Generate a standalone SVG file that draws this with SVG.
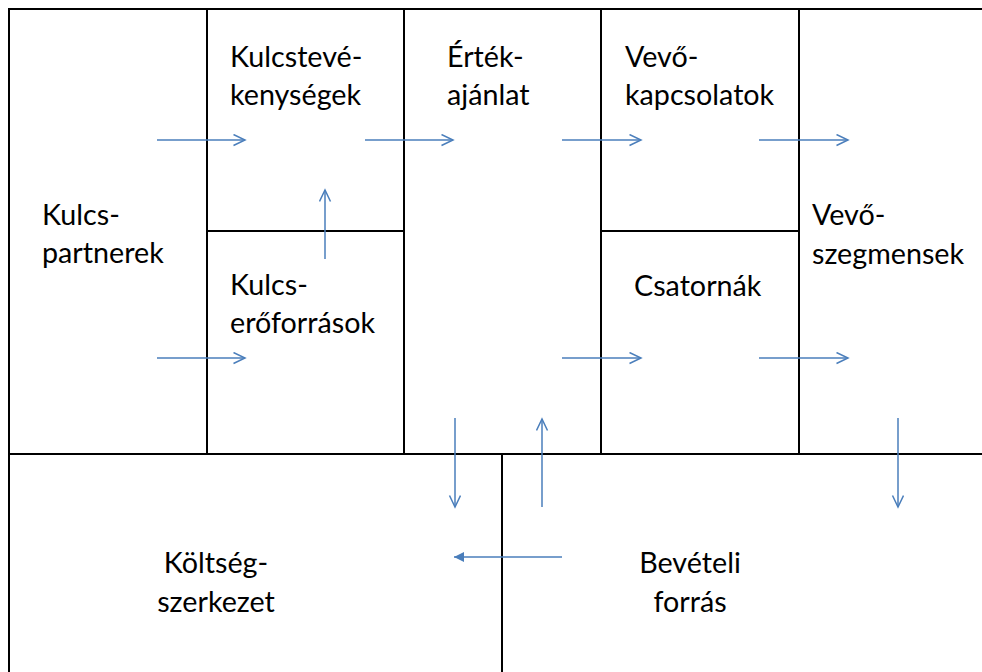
<svg xmlns="http://www.w3.org/2000/svg" width="982" height="672" viewBox="0 0 982 672">
  <style>
    .cell { fill: #ffffff; stroke: #000000; stroke-width: 2; }
    .lbl { font-family: Lato, "Liberation Sans", sans-serif; font-size: 28.7px; fill: #000000; }
    .mid { text-anchor: middle; }
    .conn { stroke: #4a7ebb; stroke-width: 1.5; fill: none; }
  </style>
  <defs>
    <marker id="open" markerUnits="userSpaceOnUse" markerWidth="14" markerHeight="14" refX="12" refY="6" orient="auto">
      <path d="M0.5,0.5 L12,6 L0.5,11.5" fill="none" stroke="#4a7ebb" stroke-width="1.5"/>
    </marker>
    <marker id="solid" markerUnits="userSpaceOnUse" markerWidth="12" markerHeight="12" refX="10" refY="5" orient="auto">
      <path d="M0,0 L10,5 L0,10 Z" fill="#4a7ebb"/>
    </marker>
  </defs>
  <rect width="982" height="672" fill="#ffffff"/>

  <g id="kulcspartnerek">
    <rect class="cell" x="9" y="9" width="198" height="445"/>
    <text class="lbl" x="42" y="225">Kulcs-</text>
    <text class="lbl" x="42" y="263">partnerek</text>
  </g>
  <g id="kulcstevekenysegek">
    <rect class="cell" x="207" y="9" width="197" height="222"/>
    <text class="lbl" x="230" y="67">Kulcstevé-</text>
    <text class="lbl" x="230" y="105">kenységek</text>
  </g>
  <g id="kulcseroforrasok">
    <rect class="cell" x="207" y="231" width="197" height="223"/>
    <text class="lbl" x="230" y="295">Kulcs-</text>
    <text class="lbl" x="230" y="333">erőforrások</text>
  </g>
  <g id="ertekajanlat">
    <rect class="cell" x="404" y="9" width="197" height="445"/>
    <text class="lbl" x="447" y="67">Érték-</text>
    <text class="lbl" x="447" y="105">ajánlat</text>
  </g>
  <g id="vevokapcsolatok">
    <rect class="cell" x="601" y="9" width="198" height="222"/>
    <text class="lbl" x="625" y="67">Vevő-</text>
    <text class="lbl" x="625" y="105">kapcsolatok</text>
  </g>
  <g id="csatornak">
    <rect class="cell" x="601" y="231" width="198" height="223"/>
    <text class="lbl" x="634" y="296">Csatornák</text>
  </g>
  <g id="vevoszegmensek">
    <rect class="cell" x="799" y="9" width="200" height="445"/>
    <text class="lbl" x="812" y="225">Vevő-</text>
    <text class="lbl" x="812" y="264">szegmensek</text>
  </g>
  <g id="koltsegszerkezet">
    <rect class="cell" x="9" y="454" width="493" height="240"/>
    <text class="lbl mid" x="216" y="573">Költség-</text>
    <text class="lbl mid" x="216" y="612">szerkezet</text>
  </g>
  <g id="bevetelforras">
    <rect class="cell" x="502" y="454" width="500" height="240"/>
    <text class="lbl mid" x="690" y="573">Bevételi</text>
    <text class="lbl mid" x="690" y="612">forrás</text>
  </g>

  <g id="connectors">
    <line class="conn" x1="157" y1="140" x2="245" y2="140" marker-end="url(#open)"/>
    <line class="conn" x1="365" y1="140" x2="453" y2="140" marker-end="url(#open)"/>
    <line class="conn" x1="562" y1="140" x2="641" y2="140" marker-end="url(#open)"/>
    <line class="conn" x1="759" y1="140" x2="848" y2="140" marker-end="url(#open)"/>
    <line class="conn" x1="325" y1="259" x2="325" y2="190" marker-end="url(#open)"/>
    <line class="conn" x1="157" y1="358" x2="245" y2="358" marker-end="url(#open)"/>
    <line class="conn" x1="562" y1="358" x2="641" y2="358" marker-end="url(#open)"/>
    <line class="conn" x1="759" y1="358" x2="848" y2="358" marker-end="url(#open)"/>
    <line class="conn" x1="455" y1="418" x2="455" y2="507" marker-end="url(#open)"/>
    <line class="conn" x1="542" y1="507" x2="542" y2="419" marker-end="url(#open)"/>
    <line class="conn" x1="898" y1="418" x2="898" y2="507" marker-end="url(#open)"/>
    <line class="conn" x1="562" y1="557" x2="454" y2="557" marker-end="url(#solid)"/>
  </g>
</svg>
